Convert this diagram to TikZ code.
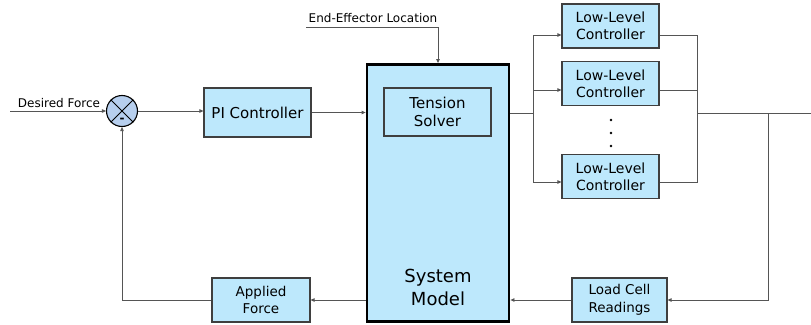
\documentclass[tikz,border=0pt]{standalone}
\usepackage{fontspec}
\setmainfont{DejaVu Sans}
\usetikzlibrary{arrows.meta,calc}
\definecolor{boxfill}{HTML}{BDE8FC}
\definecolor{sumfill}{HTML}{B7CFEE}
\definecolor{edge}{HTML}{3F3F3F}
\definecolor{wire}{HTML}{555555}
\tikzset{
  blk/.style={draw=edge, line width=1.1pt, fill=boxfill, align=center, inner sep=0pt},
  arr/.style={draw=wire, line width=0.8pt, -{Triangle[length=4pt,width=3.5pt]}},
  wirel/.style={draw=wire, line width=0.8pt},
  lbl/.style={inner sep=0pt, font=\fontsize{12}{14}\selectfont}
}
\begin{document}
\begin{tikzpicture}[x=1pt,y=-1pt]
\useasboundingbox (0,0) rectangle (811,324);
% blocks
\node[blk, minimum width=107pt, minimum height=49pt, font=\fontsize{15}{17}\selectfont] (pi) at (257.5,112.5) {PI Controller};
\node[blk, line width=2.8pt, draw=black, minimum width=142pt, minimum height=257pt] (sys) at (438,193) {};
\node[inner sep=0pt, align=center, font=\fontsize{18}{23}\selectfont] (sysl) at (438,287) {System\\Model};
\node[blk, minimum width=107pt, minimum height=48pt, font=\fontsize{15}{18.3}\selectfont] (ts) at (437.5,112) {Tension\\Solver};
\node[blk, minimum width=97pt, minimum height=44pt, font=\fontsize{14}{16.7}\selectfont] (llc1) at (610.5,26) {Low-Level\\Controller};
\node[blk, minimum width=97pt, minimum height=44pt, font=\fontsize{14}{16.7}\selectfont] (llc2) at (610.5,83.5) {Low-Level\\Controller};
\node[blk, minimum width=97pt, minimum height=44pt, font=\fontsize{14}{16.7}\selectfont] (llc3) at (610.5,176.5) {Low-Level\\Controller};
\node[blk, minimum width=98pt, minimum height=44pt, font=\fontsize{13.5}{17.6}\selectfont] (af) at (261,300) {Applied\\Force};
\node[blk, minimum width=95pt, minimum height=44pt, font=\fontsize{13.5}{17.6}\selectfont] (lc) at (619.5,300) {Load Cell\\Readings};
% summing junction
\node[circle, draw=black, line width=1.1pt, fill=sumfill, minimum size=31pt, inner sep=0pt] (sum) at (122,111) {};
\draw[black, line width=1pt] (sum.45) -- (sum.225) (sum.135) -- (sum.315);
\node[inner sep=0pt, font=\fontsize{12}{12}\selectfont\bfseries] (minus) at (122,120.5) {-};
% dots
\foreach \yy in {120,133,146} \fill[black] (611,\yy) circle (1.3);
% labels
\node[lbl] (dfl) at (59,103) {Desired Force};
\node[lbl] (eel) at (373,18) {End-Effector Location};
% coordinates
\coordinate (in) at (10,111);
\coordinate (ee) at (306,27);
\coordinate (sp) at (533,113);
\coordinate (jn) at (697,113);
\coordinate (tap) at (768,113);
\coordinate (out) at (811,113);
% connectors
\draw[arr] (in) -- (sum.west);
\draw[arr] (sum.east) -- (sum.east -| pi.west);
\draw[arr] (pi.east) -- (pi.east -| sys.west);
\draw[arr] (ee) -| (sys.north);
\draw[wirel] (sys.east |- sp) -- (sp);
\draw[arr] (sp) |- ([yshift=-9pt]llc1.west);
\draw[arr] (sp) |- ([yshift=-6.5pt]llc2.west);
\draw[arr] (sp) |- ([yshift=-5.5pt]llc3.west);
\draw[wirel] ([yshift=-9pt]llc1.east) -| (jn);
\draw[wirel] ([yshift=-6.5pt]llc2.east) -| (jn);
\draw[wirel] ([yshift=-5.5pt]llc3.east) -| (jn);
\draw[wirel] (jn) -- (out);
\draw[arr] (tap) |- (lc.east);
\draw[arr] (lc.west) -- (lc.west -| sys.east);
\draw[arr] (af.east -| sys.west) -- (af.east);
\draw[arr] (af.west) -| (sum.south);
\end{tikzpicture}
\end{document}
